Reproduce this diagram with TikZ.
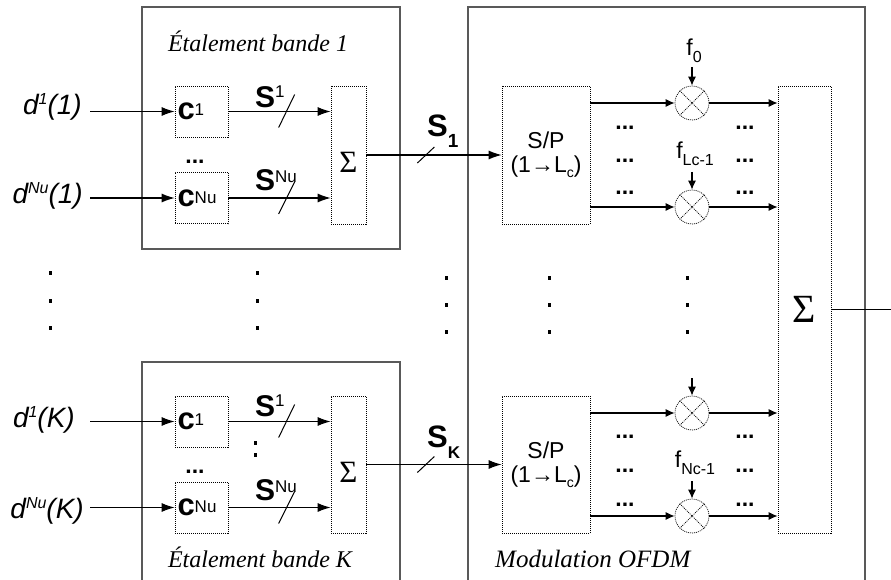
\documentclass[tikz,border=0pt]{standalone}
\usepackage{fontspec}
\setmainfont{Liberation Sans}
\newfontfamily\tms{Liberation Serif}
\usetikzlibrary{arrows.meta}
\newcommand\fs[1]{\fontsize{#1}{#1}\selectfont}
\newcommand\hup[3]{\raisebox{#1}{\fs{#2}#3}}
\begin{document}
\begin{tikzpicture}[x=1pt,y=-1pt,
  frame/.style={draw=black!65, line width=1.4pt},
  dbox/.style={draw, line width=0.7pt, dash pattern=on 1pt off 1pt, inner sep=0},
  conn/.style={line width=1.1pt},
  bigtip/.style={conn, -{Latex[length=13pt,width=9pt]}},
  smalltip/.style={conn, -{Latex[length=9pt,width=8pt]}},
  mult/.style={circle, dbox, minimum size=34pt},
  cbox/.style={dbox, minimum width=53pt, minimum height=51pt, text width=48pt, align=left, font=\fs{31}},
  sbox/.style={dbox, minimum width=35pt, minimum height=138pt},
  spbox/.style={dbox, minimum width=88pt, minimum height=138pt, align=center, font=\fs{23}, execute at begin node=\setlength{\baselineskip}{24pt}},
  txt/.style={inner sep=0},
  dlab/.style={txt, font=\fs{28}\itshape, anchor=base east},
  slab/.style={txt, font=\fs{30}, anchor=base west},
  flab/.style={txt, font=\fs{23}, anchor=south},
  ell/.style={txt, font=\bfseries\fs{23}},
  ttl/.style={txt, font=\tms\itshape\fs{24}, anchor=base},
  sig/.style={txt, font=\tms\fs{31}},
  vdot/.style={fill=black, draw=none},
  slashln/.style={line width=1pt}
]
\useasboundingbox (0,0) rectangle (891,580);

% frames
\draw[frame] (142,7) rectangle (400,249);
\draw[frame] (142,580) |- (400,362) -- (400,580);
\draw[frame] (468,580) |- (865,7) -- (865,580);

% titles
\node[ttl] (t1) at (258,52) {Étalement bande 1};
\node[ttl] (tK) at (260,567) {Étalement bande K};
\node[ttl, font=\tms\itshape\fs{25}, anchor=base west] (tm) at (495,567) {Modulation OFDM};

% ---------- band 1 ----------
\node[cbox] (c11) at (201.5,111.5) {\textbf{c}\hup{4pt}{17}{1}};
\node[cbox] (cN1) at (201.5,198) {\textbf{c}\hup{3pt}{17}{Nu}};
\node[sbox] (s1) at (348.5,155) {};
\node[sig] (s1t) at ([yshift=-7pt]s1.center) {Σ};
\node[ell] (e1) at (195,162) {...};

\node[dlab] (d11) at (82,115) {d\hup{10pt}{16}{1}(1)};
\node[dlab] (dN1) at (83,204) {d\hup{10pt}{16}{Nu}(1)};
\draw[bigtip, shorten <=8pt] (d11.east |- c11.west) -- (c11.west);
\draw[bigtip, shorten <=7pt] (dN1.east |- cN1.west) -- (cN1.west);

\node[slab] (l11) at (255,108) {\textbf{S}\hup{10pt}{17}{1}};
\node[slab] (lN1) at (255,190) {\textbf{S}\hup{8pt}{17}{Nu}};
\draw[bigtip] (c11) -- coordinate[pos=0.57] (k11) (s1.west |- c11);
\draw[bigtip] (cN1) -- coordinate[pos=0.57] (kN1) (s1.west |- cN1);
\draw[slashln] ([shift={(-8,16)}]k11) -- ([shift={(8,-17)}]k11);
\draw[slashln] ([shift={(-8,16)}]kN1) -- ([shift={(8,-16)}]kN1);

% ---------- band K ----------
\node[cbox] (cK1) at (201.5,421.5) {\textbf{c}\hup{4pt}{17}{1}};
\node[cbox] (cKN) at (201.5,507.5) {\textbf{c}\hup{3pt}{17}{Nu}};
\node[sbox, minimum height=137pt] (sK) at (348.5,464.5) {};
\node[sig] (sKt) at ([yshift=-8pt]sK.center) {Σ};
\node[ell] (eK) at (195,472) {...};

\node[dlab] (dK1) at (75,427) {d\hup{10pt}{16}{1}(K)};
\node[dlab] (dKN) at (84,518) {d\hup{10pt}{16}{Nu}(K)};
\draw[bigtip, shorten <=15pt] (dK1.east |- cK1.west) -- (cK1.west);
\draw[bigtip, shorten <=6pt] (dKN.east |- cKN.west) -- (cKN.west);

\node[slab] (lK1) at (255,416) {\textbf{S}\hup{10pt}{17}{1}};
\node[slab] (lKN) at (255,500) {\textbf{S}\hup{8pt}{17}{Nu}};
\draw[bigtip] (cK1) -- coordinate[pos=0.57] (kK1) (sK.west |- cK1);
\draw[bigtip] (cKN) -- coordinate[pos=0.57] (kKN) (sK.west |- cKN);
\draw[slashln] ([shift={(-8,16)}]kK1) -- ([shift={(8,-17)}]kK1);
\draw[slashln] ([shift={(-8,16)}]kKN) -- ([shift={(8,-16)}]kKN);
\fill[vdot] (254,441) rectangle (256.5,444.5);
\fill[vdot] (254,453) rectangle (256.5,456.5);

% ---------- OFDM ----------
\node[spbox] (SP1) at (546,155) {S/P\\(1→L\hup{-5pt}{14}{c})};
\node[spbox, minimum height=137pt] (SPK) at (546,464.5) {S/P\\(1→L\hup{-5pt}{14}{c})};
\node[dbox, minimum width=53pt, minimum height=447pt, font=\tms\fs{40}] (bigS) at (804.5,309.5) {Σ};

\draw[bigtip] (s1) -- coordinate[pos=0.44] (k1) (SP1);
\draw[bigtip] (sK) -- coordinate[pos=0.44] (kK) (SPK);
\draw[slashln] ([shift={(-8.5,8)}]k1) -- ([shift={(8.5,-8)}]k1);
\draw[slashln] ([shift={(-8.5,8)}]kK) -- ([shift={(8.5,-8)}]kK);
\node[txt, font=\fs{31}, anchor=base west] (S1l) at (427,137) {\textbf{S}\hup{-11pt}{19}{\textbf{1}}};
\node[txt, font=\fs{31}, anchor=base west] (SKl) at (427,447) {\textbf{S}\hup{-11pt}{17}{\textbf{K}}};

\node[mult] (m11) at (692,103) {};
\node[mult] (m12) at (692,207) {};
\node[mult] (mK1) at (692,413) {};
\node[mult] (mK2) at (692,516) {};
\foreach \m in {m11,m12,mK1,mK2}{
  \draw[line width=0.7pt, dash pattern=on 1pt off 1pt] (\m.north west) -- (\m.south east) (\m.north east) -- (\m.south west);
}
\draw[smalltip] (SP1.east |- m11) -- (m11);
\draw[smalltip] (SP1.east |- m12) -- (m12);
\draw[smalltip] (SPK.east |- mK1) -- (mK1);
\draw[smalltip] (SPK.east |- mK2) -- (mK2);
\draw[smalltip] (m11) -- (bigS.west |- m11);
\draw[smalltip] (m12) -- (bigS.west |- m12);
\draw[smalltip] (mK1) -- (bigS.west |- mK1);
\draw[smalltip] (mK2) -- (bigS.west |- mK2);

\node[flab] (f0) at (694,63) {f\hup{-7pt}{16}{0}};
\node[flab] (fL) at (695,166) {f\hup{-7pt}{16}{Lc-1}};
\node[flab] (fN) at (695,475) {f\hup{-7pt}{16}{Nc-1}};
\coordinate (aK) at (692,378);
\draw[smalltip, shorten <=4pt] (f0.south -| m11) -- (m11);
\draw[smalltip, shorten <=6pt] (fL.south -| m12) -- (m12);
\draw[smalltip, shorten <=6pt] (fN.south -| mK2) -- (mK2);
\draw[smalltip] (aK) -- (mK1);

\foreach \y [count=\i] in {128,161,193,437,471,505}{
  \node[ell] (eL\i) at (625,\y) {...};
  \node[ell] (eR\i) at (745,\y) {...};
}

\coordinate (out) at (891,309.5);
\draw[conn] (bigS.east |- out) -- (out);

% vertical dots
\foreach \x in {50,257}{
  \foreach \y in {273,301,328}{ \fill[vdot] (\x-1.5,\y-2) rectangle (\x+1.5,\y+2); }
}
\foreach \x in {446,549,687}{
  \foreach \y in {278,305,332}{ \fill[vdot] (\x-1.5,\y-2) rectangle (\x+1.5,\y+2); }
}
\end{tikzpicture}
\end{document}
